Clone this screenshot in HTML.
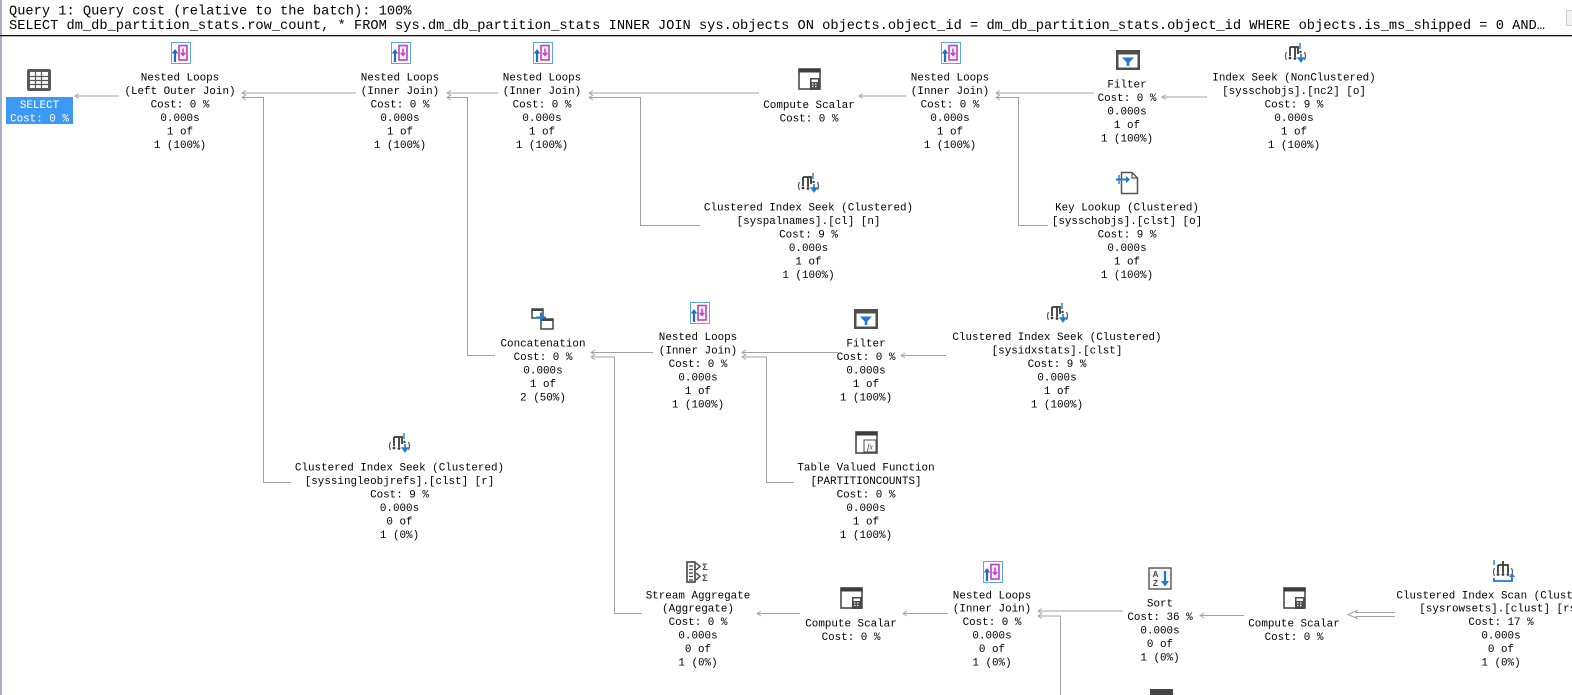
<!DOCTYPE html>
<html><head><meta charset="utf-8"><style>
html,body{margin:0;padding:0;background:#fff;}
svg{display:block;}
.t{font-family:"Liberation Mono","DejaVu Sans Mono",monospace;font-size:10.9px;fill:#000;text-anchor:middle;}
.h{font-family:"Liberation Mono","DejaVu Sans Mono",monospace;font-size:13.7px;fill:#000;}
.ln{stroke:#a0a0a0;stroke-width:1;fill:none;}
.ah{stroke:#a8a8a8;stroke-width:1;fill:none;}
</style></head><body>
<svg width="1572" height="695" viewBox="0 0 1572 695" xmlns="http://www.w3.org/2000/svg">
<rect width="1572" height="695" fill="#fff"/>
<rect x="0" y="0" width="2" height="695" fill="#aab0c4"/>
<!-- header -->
<text class="h" x="9" y="14.5">Query 1: Query cost (relative to the batch): 100%</text>
<text class="h" x="9" y="29">SELECT dm_db_partition_stats.row_count, * FROM sys.dm_db_partition_stats INNER JOIN sys.objects ON objects.object_id = dm_db_partition_stats.object_id WHERE objects.is_ms_shipped = 0 AND…</text>
<rect x="1566.5" y="10.5" width="8" height="15" fill="#f2f2f2" stroke="#c8c8c8"/>
<rect x="0" y="35" width="1572" height="1.3" fill="#111"/>

<!-- connectors -->
<g>
<path class="ln" d="M75 96 H119"/><path class="ah" d="M79 93.5 L75 96 L79 98.5"/>
<path class="ln" d="M242 93 H356"/><path class="ah" d="M246 90.5 L242 93 L246 95.5"/>
<path class="ln" d="M242 97.5 H263.5 V482.5 H291"/><path class="ah" d="M246 95 L242 97.5 L246 100"/>
<path class="ln" d="M447 93 H498"/><path class="ah" d="M451 90.5 L447 93 L451 95.5"/>
<path class="ln" d="M447 97.5 H467.5 V355.5 H495"/><path class="ah" d="M451 95 L447 97.5 L451 100"/>
<path class="ln" d="M589 93 H759"/><path class="ah" d="M593 90.5 L589 93 L593 95.5"/>
<path class="ln" d="M589 97.5 H640.5 V225.5 H700"/><path class="ah" d="M593 95 L589 97.5 L593 100"/>
<path class="ln" d="M859 96 H906"/><path class="ah" d="M863 93.5 L859 96 L863 98.5"/>
<path class="ln" d="M996 93 H1094"/><path class="ah" d="M1000 90.5 L996 93 L1000 95.5"/>
<path class="ln" d="M996 97.5 H1018.5 V225.5 H1048"/><path class="ah" d="M1000 95 L996 97.5 L1000 100"/>
<path class="ln" d="M1162 97 H1207"/><path class="ah" d="M1166 94.5 L1162 97 L1166 99.5"/>
<path class="ln" d="M591 352.5 H653"/><path class="ah" d="M595 350 L591 352.5 L595 355"/>
<path class="ln" d="M591 357 H614.5 V613.5 H642"/><path class="ah" d="M595 354.5 L591 357 L595 359.5"/>
<path class="ln" d="M742 352.5 H838"/><path class="ah" d="M746 350 L742 352.5 L746 355"/>
<path class="ln" d="M742 357 H766.5 V482.5 H794"/><path class="ah" d="M746 354.5 L742 357 L746 359.5"/>
<path class="ln" d="M901 355.5 H946"/><path class="ah" d="M905 353 L901 355.5 L905 358"/>
<path class="ln" d="M757 613.5 H800"/><path class="ah" d="M761 611 L757 613.5 L761 616"/>
<path class="ln" d="M903 613.5 H948"/><path class="ah" d="M907 611 L903 613.5 L907 616"/>
<path class="ln" d="M1038 611 H1123"/><path class="ah" d="M1042 608.5 L1038 611 L1042 613.5"/>
<path class="ln" d="M1038 616 H1060.5 V695"/><path class="ah" d="M1042 613.5 L1038 616 L1042 618.5"/>
<path class="ln" d="M1200 615.5 H1244"/><path class="ah" d="M1204 613 L1200 615.5 L1204 618"/>
<path d="M1395 612.5 H1356 L1357 610.5 L1348 614.5 L1357 618.5 L1356 616.5 H1395" fill="#fff" stroke="#a0a0a0" stroke-width="1"/>
</g>

<!-- SELECT -->
<g transform="translate(27,69)">
<rect x="0" y="0" width="24" height="22" rx="2" fill="#5a5a5a"/>
<rect x="3" y="3" width="18" height="16" fill="#fff"/>
<path d="M3 7.5H21M3 11.5H21M3 15.5H21M8.5 3V19M14.5 3V19" stroke="#5a5a5a" stroke-width="1.2"/>
</g>
<rect x="6" y="97" width="67" height="27" fill="#3d99f5"/>
<text class="t" x="39.5" y="108" style="fill:#fff">SELECT</text>
<text class="t" x="39.5" y="121.5" style="fill:#fff">Cost: 0 %</text>

<!-- NL icons -->
<defs>
<g id="nl">
<rect x="2.5" y="0.5" width="19" height="21" fill="#fff" stroke="#5aa9e0"/>
<rect x="10" y="3.5" width="8" height="14.5" fill="#fbeefb" stroke="#c040c0" stroke-width="1.6"/>
<path d="M14 6.5v6.5M11.8 10.8l2.2 2.6l2.2-2.6" stroke="#c040c0" stroke-width="1.5" fill="none"/>
<path d="M6 20V9" stroke="#1e6cc8" stroke-width="2.2"/>
<path d="M2.8 11.5L6 7L9.2 11.5Z" fill="#1e6cc8"/>
</g>
<g id="cs">
<rect x="1" y="1" width="21" height="20" fill="#fff" stroke="#4a4a4a" stroke-width="1.6"/>
<rect x="0.5" y="0.5" width="22" height="4" fill="#3c3c3c"/>
<rect x="12" y="10" width="9.5" height="12" fill="#4a4a4a"/>
<rect x="13.5" y="11.5" width="6.5" height="2.5" fill="#fff"/>
<path d="M14 16h1.5M17 16h1.5M14 18.5h1.5M17 18.5h1.5" stroke="#fff" stroke-width="1.3"/>
</g>
<g id="flt">
<rect x="0" y="0" width="24" height="20" fill="#4f4f4f"/>
<rect x="2.5" y="4.5" width="19" height="13" fill="#fff"/>
<path d="M6 7.5H18L13.3 12.5V16H10.7V12.5Z" fill="#1f7ad1"/>
</g>
<g id="seek">
<path d="M6 5V14M6 5H11V15M11 5H14V12" stroke="#3a3a3a" stroke-width="1.8" fill="none"/>
<circle cx="6" cy="16" r="1.4" fill="#3a3a3a"/><circle cx="11" cy="16.5" r="1.4" fill="#3a3a3a"/>
<path d="M2.5 10q-2 4 0 8M20.5 10q2 4 0 8" stroke="#555" stroke-width="1.2" fill="none"/>
<path d="M16 1v6" stroke="#1f7ad1" stroke-width="1.4"/>
<path d="M17 12v6M14.5 16l2.5 3.5l2.5-3.5Z" stroke="#1f7ad1" stroke-width="1.6" fill="#1f7ad1"/>
<circle cx="16.5" cy="10" r="1.2" fill="#3a3a3a"/>
</g>
</defs>
<use href="#nl" x="169" y="42"/>
<use href="#nl" x="389" y="42"/>
<use href="#nl" x="531" y="42"/>
<use href="#nl" x="939" y="42"/>
<use href="#nl" x="688" y="302"/>
<use href="#nl" x="981" y="561"/>
<use href="#cs" x="798" y="68"/>
<use href="#cs" x="840" y="587"/>
<use href="#cs" x="1283" y="587"/>
<use href="#flt" x="1116" y="50"/>
<use href="#flt" x="854" y="309"/>
<use href="#seek" x="1284" y="42"/>
<use href="#seek" x="797" y="172"/>
<use href="#seek" x="1046" y="302"/>
<use href="#seek" x="388" y="432"/>

<!-- Key lookup -->
<g transform="translate(1116,171)">
<path d="M5.5 1.5H16L21.5 7V22.5H5.5Z" fill="#fff" stroke="#555" stroke-width="1.5"/>
<path d="M16 1.5V7H21.5" fill="none" stroke="#555" stroke-width="1.2"/>
<path d="M0 8.5H12" stroke="#1f7ad1" stroke-width="2"/>
<path d="M10 5L14 8.5L10 12Z" fill="#1f7ad1"/>
<path d="M3 4V13" stroke="#1f7ad1" stroke-width="1.4"/>
</g>
<!-- Concatenation -->
<g transform="translate(531,308)">
<rect x="1" y="1" width="11" height="9" fill="#fff" stroke="#444" stroke-width="1.5"/>
<rect x="0.5" y="0.5" width="12" height="2.5" fill="#444"/>
<rect x="10" y="11" width="12" height="10" fill="#fff" stroke="#444" stroke-width="1.5"/>
<rect x="9.5" y="10.5" width="13" height="2.5" fill="#444"/>
<path d="M10 4.5V14.5M5 9.5H15" stroke="#1f7ad1" stroke-width="2"/>
</g>
<!-- TVF -->
<g transform="translate(855,431)">
<rect x="1" y="1" width="21" height="21" fill="#fff" stroke="#4a4a4a" stroke-width="1.6"/>
<rect x="0.5" y="0.5" width="22" height="4" fill="#3c3c3c"/>
<rect x="9" y="9" width="12" height="12" fill="#fff" stroke="#4a4a4a"/>
<text x="15" y="18.5" style="font-family:'Liberation Serif',serif;font-size:8px;font-style:italic;fill:#333;text-anchor:middle">fx</text>
</g>
<!-- Stream aggregate -->
<g transform="translate(686,561)">
<rect x="1" y="1" width="8" height="20" fill="#fff" stroke="#444" stroke-width="1.6"/>
<path d="M3 5H7M3 8.5H7M3 12H7M3 15.5H7M3 19H7" stroke="#444" stroke-width="1.3"/>
<path d="M10 2L14 5.5L10 9M10 12L14 15.5L10 19" stroke="#444" stroke-width="1.4" fill="none"/>
<text x="19" y="9" style="font-family:'Liberation Sans',sans-serif;font-size:9px;font-weight:bold;fill:#444;text-anchor:middle">Σ</text>
<text x="19" y="20" style="font-family:'Liberation Sans',sans-serif;font-size:9px;font-weight:bold;fill:#444;text-anchor:middle">Σ</text>
</g>
<!-- Sort -->
<g transform="translate(1148,567)">
<rect x="1" y="1" width="22" height="21" fill="#f6f6f6" stroke="#555" stroke-width="1.4"/>
<text x="7.5" y="10" style="font-family:'Liberation Sans',sans-serif;font-size:8px;font-weight:bold;fill:#444;text-anchor:middle">A</text>
<text x="7.5" y="19" style="font-family:'Liberation Sans',sans-serif;font-size:8px;font-weight:bold;fill:#444;text-anchor:middle">Z</text>
<path d="M17 4V16" stroke="#1f7ad1" stroke-width="2.2"/>
<path d="M13 14L17 19.5L21 14Z" fill="#1f7ad1"/>
</g>
<!-- CI Scan -->
<g transform="translate(1492,559)">
<path d="M6 6V14M6 6H16V14M11 2V14" stroke="#3a3a3a" stroke-width="1.8" fill="none"/>
<circle cx="6" cy="15.5" r="1.4" fill="#3a3a3a"/><circle cx="11" cy="15.5" r="1.4" fill="#3a3a3a"/><circle cx="16" cy="15.5" r="1.4" fill="#3a3a3a"/>
<path d="M2.5 9q-2 4 0 8M19.5 9q2 4 0 8" stroke="#555" stroke-width="1.2" fill="none"/>
<path d="M2 1v5" stroke="#1f7ad1" stroke-width="1.4"/>
<path d="M2 19V22H20V17" stroke="#1f7ad1" stroke-width="1.8" fill="none"/>
<path d="M17 18L20 14L23 18Z" fill="#1f7ad1"/>
</g>
<!-- bottom partial icon -->
<rect x="1150" y="689" width="23" height="6" fill="#444"/>

<!-- labels -->
<g>
<text class="t" x="180" y="80.7">Nested Loops</text>
<text class="t" x="180" y="94.1">(Left Outer Join)</text>
<text class="t" x="180" y="107.6">Cost: 0 %</text>
<text class="t" x="180" y="121">0.000s</text>
<text class="t" x="180" y="134.5">1 of</text>
<text class="t" x="180" y="148">1 (100%)</text>

<text class="t" x="400" y="80.7">Nested Loops</text>
<text class="t" x="400" y="94.1">(Inner Join)</text>
<text class="t" x="400" y="107.6">Cost: 0 %</text>
<text class="t" x="400" y="121">0.000s</text>
<text class="t" x="400" y="134.5">1 of</text>
<text class="t" x="400" y="148">1 (100%)</text>

<text class="t" x="542" y="80.7">Nested Loops</text>
<text class="t" x="542" y="94.1">(Inner Join)</text>
<text class="t" x="542" y="107.6">Cost: 0 %</text>
<text class="t" x="542" y="121">0.000s</text>
<text class="t" x="542" y="134.5">1 of</text>
<text class="t" x="542" y="148">1 (100%)</text>

<text class="t" x="809" y="108">Compute Scalar</text>
<text class="t" x="809" y="121.5">Cost: 0 %</text>

<text class="t" x="950" y="80.7">Nested Loops</text>
<text class="t" x="950" y="94.1">(Inner Join)</text>
<text class="t" x="950" y="107.6">Cost: 0 %</text>
<text class="t" x="950" y="121">0.000s</text>
<text class="t" x="950" y="134.5">1 of</text>
<text class="t" x="950" y="148">1 (100%)</text>

<text class="t" x="1127" y="87.5">Filter</text>
<text class="t" x="1127" y="101">Cost: 0 %</text>
<text class="t" x="1127" y="114.5">0.000s</text>
<text class="t" x="1127" y="128">1 of</text>
<text class="t" x="1127" y="141.5">1 (100%)</text>

<text class="t" x="1294" y="80.7">Index Seek (NonClustered)</text>
<text class="t" x="1294" y="94.1">[sysschobjs].[nc2] [o]</text>
<text class="t" x="1294" y="107.6">Cost: 9 %</text>
<text class="t" x="1294" y="121">0.000s</text>
<text class="t" x="1294" y="134.5">1 of</text>
<text class="t" x="1294" y="148">1 (100%)</text>

<text class="t" x="808.5" y="210.7">Clustered Index Seek (Clustered)</text>
<text class="t" x="808.5" y="224.1">[syspalnames].[cl] [n]</text>
<text class="t" x="808.5" y="237.6">Cost: 9 %</text>
<text class="t" x="808.5" y="251">0.000s</text>
<text class="t" x="808.5" y="264.5">1 of</text>
<text class="t" x="808.5" y="278">1 (100%)</text>

<text class="t" x="1127" y="210.7">Key Lookup (Clustered)</text>
<text class="t" x="1127" y="224.1">[sysschobjs].[clst] [o]</text>
<text class="t" x="1127" y="237.6">Cost: 9 %</text>
<text class="t" x="1127" y="251">0.000s</text>
<text class="t" x="1127" y="264.5">1 of</text>
<text class="t" x="1127" y="278">1 (100%)</text>

<text class="t" x="543" y="346.7">Concatenation</text>
<text class="t" x="543" y="360.2">Cost: 0 %</text>
<text class="t" x="543" y="373.6">0.000s</text>
<text class="t" x="543" y="387.1">1 of</text>
<text class="t" x="543" y="400.6">2 (50%)</text>

<text class="t" x="698" y="340">Nested Loops</text>
<text class="t" x="698" y="353.5">(Inner Join)</text>
<text class="t" x="698" y="367">Cost: 0 %</text>
<text class="t" x="698" y="380.4">0.000s</text>
<text class="t" x="698" y="393.9">1 of</text>
<text class="t" x="698" y="407.4">1 (100%)</text>

<text class="t" x="866" y="346.7">Filter</text>
<text class="t" x="866" y="360.2">Cost: 0 %</text>
<text class="t" x="866" y="373.6">0.000s</text>
<text class="t" x="866" y="387.1">1 of</text>
<text class="t" x="866" y="400.6">1 (100%)</text>

<text class="t" x="1057" y="340">Clustered Index Seek (Clustered)</text>
<text class="t" x="1057" y="353.5">[sysidxstats].[clst]</text>
<text class="t" x="1057" y="367">Cost: 9 %</text>
<text class="t" x="1057" y="380.4">0.000s</text>
<text class="t" x="1057" y="393.9">1 of</text>
<text class="t" x="1057" y="407.4">1 (100%)</text>

<text class="t" x="399.5" y="470.7">Clustered Index Seek (Clustered)</text>
<text class="t" x="399.5" y="484.1">[syssingleobjrefs].[clst] [r]</text>
<text class="t" x="399.5" y="497.6">Cost: 9 %</text>
<text class="t" x="399.5" y="511">0.000s</text>
<text class="t" x="399.5" y="524.5">0 of</text>
<text class="t" x="399.5" y="538">1 (0%)</text>

<text class="t" x="866" y="470.7">Table Valued Function</text>
<text class="t" x="866" y="484.1">[PARTITIONCOUNTS]</text>
<text class="t" x="866" y="497.6">Cost: 0 %</text>
<text class="t" x="866" y="511">0.000s</text>
<text class="t" x="866" y="524.5">1 of</text>
<text class="t" x="866" y="538">1 (100%)</text>

<text class="t" x="698" y="598.3">Stream Aggregate</text>
<text class="t" x="698" y="611.7">(Aggregate)</text>
<text class="t" x="698" y="625.2">Cost: 0 %</text>
<text class="t" x="698" y="638.7">0.000s</text>
<text class="t" x="698" y="652.1">0 of</text>
<text class="t" x="698" y="665.6">1 (0%)</text>

<text class="t" x="851" y="626.7">Compute Scalar</text>
<text class="t" x="851" y="640.2">Cost: 0 %</text>

<text class="t" x="992" y="598.3">Nested Loops</text>
<text class="t" x="992" y="611.7">(Inner Join)</text>
<text class="t" x="992" y="625.2">Cost: 0 %</text>
<text class="t" x="992" y="638.7">0.000s</text>
<text class="t" x="992" y="652.1">0 of</text>
<text class="t" x="992" y="665.6">1 (0%)</text>

<text class="t" x="1160" y="606.7">Sort</text>
<text class="t" x="1160" y="620.2">Cost: 36 %</text>
<text class="t" x="1160" y="633.6">0.000s</text>
<text class="t" x="1160" y="647.1">0 of</text>
<text class="t" x="1160" y="660.6">1 (0%)</text>

<text class="t" x="1294" y="626.7">Compute Scalar</text>
<text class="t" x="1294" y="640.2">Cost: 0 %</text>

<text class="t" x="1501" y="598.3">Clustered Index Scan (Clustered)</text>
<text class="t" x="1501" y="611.7">[sysrowsets].[clust] [rs]</text>
<text class="t" x="1501" y="625.2">Cost: 17 %</text>
<text class="t" x="1501" y="638.7">0.000s</text>
<text class="t" x="1501" y="652.1">0 of</text>
<text class="t" x="1501" y="665.6">1 (0%)</text>
</g>
</svg>
</body></html>
